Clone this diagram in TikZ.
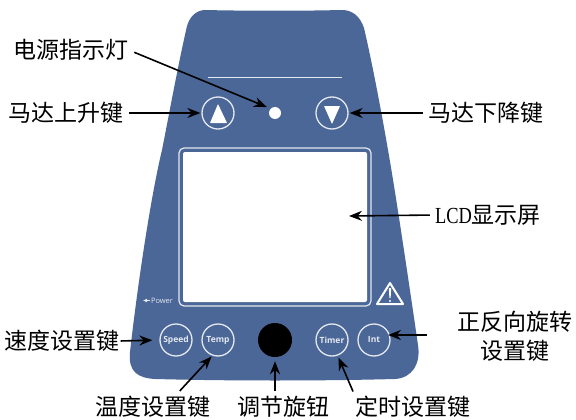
\documentclass[tikz,border=0pt]{standalone}
\usepackage{fontspec}
\setmainfont{Liberation Serif}
\newfontfamily\cjk{Noto Sans CJK SC}
\newfontfamily\narrowlatin[FakeStretch=0.8]{Liberation Serif}
\newfontfamily\keyfont{Open Sans}
\usetikzlibrary{arrows.meta}
\definecolor{PanelBlue}{HTML}{4A6797}
\definecolor{RingGray}{HTML}{E4E8F0}
\newcommand{\ringradius}{32pt}
\tikzset{
  panelkey/.style={circle,draw=RingGray,line width=1.3pt,minimum size=\ringradius,inner sep=0pt,
    text=RingGray,font=\keyfont\bfseries\fontsize{8.5}{9}\selectfont},
  callout/.style={font=\cjk\fontsize{23}{29}\selectfont,inner sep=0pt,align=center},
  pointer/.style={-{Stealth[length=13pt,width=10pt]},line width=1.6pt,black},
}
\begin{document}
\begin{tikzpicture}[x=1pt,y=-1pt]
  \useasboundingbox (0,0) rectangle (576,420);
  % panel body
  \fill[PanelBlue] (204,10) .. controls (250,11) and (300,11) .. (342,10)
    .. controls (352,10) and (360,16) .. (364,28)
    .. controls (372,62) and (382,115) .. (388,150)
    .. controls (396,195) and (410,290) .. (418,345)
    .. controls (421,364) and (412,378) .. (395,379)
    .. controls (320,381) and (230,381) .. (155,379)
    .. controls (138,378) and (128,372) .. (130,352)
    .. controls (137,290) and (150,200) .. (162,150)
    .. controls (168,120) and (178,65) .. (187,26)
    .. controls (190,16) and (196,11) .. (204,10) -- cycle;
  \draw[RingGray,line width=1pt] (208,78) -- (342,78);
  % lcd part
  \draw[RingGray,line width=1.2pt,rounded corners=5pt] (179,148) rectangle (371,306);
  \fill[white,rounded corners=2pt] (183,152) rectangle (367,302);
  \coordinate (lcdTarget) at (349,216);
  % top row
  \node[panelkey] (btnUp) at (218,113) {};
  \node[panelkey] (btnDown) at (332,113) {};
  \fill[white,rounded corners=0.5pt] (218,104) -- (227,123) -- (210,123) -- cycle;
  \fill[white,rounded corners=0.5pt] (332,124) -- (340,106) -- (324,106) -- cycle;
  \node[circle,fill=white,minimum size=12pt,inner sep=0pt] (led) at (275,113) {};
  % warning sign
  \draw[white,line width=2pt,line join=round] (390,283) -- (403,304) -- (377,304) -- cycle;
  \fill[white] (388.8,288) -- (391.2,288) -- (390.6,298) -- (389.4,298) -- cycle;
  \fill[white] (390,301) circle (1.2pt);
  \node[text=RingGray,font=\keyfont\fontsize{7.5}{8}\selectfont,inner sep=0pt] (power) at (162,301) {Power};
  \draw[-{Latex[length=4pt,width=4pt]},RingGray,line width=1pt] (150,300.5) -- (143,300.5);
  % bottom row
  \node[panelkey] (btnSpeed) at (176,340) {Speed};
  \node[panelkey] (btnTemp) at (218,340) {Temp};
  \node[circle,fill=black,minimum size=34pt,inner sep=0pt] (knob) at (275,340) {};
  \node[panelkey] (btnTimer) at (332,340) {Timer};
  \node[panelkey] (btnInt) at (374,340) {Int};
  % labels
  \node[callout] (lblLed) at (71,50) {电源指示灯};
  \node[callout] (lblUp) at (66,113) {马达上升键};
  \node[callout] (lblDown) at (486,113) {马达下降键};
  \node[callout] (lblLcd) at (488,215) {{\narrowlatin LCD}显示屏};
  \node[callout] (lblInt) at (515,336) {正反向旋转\\设置键};
  \node[callout] (lblSpeed) at (62,341) {速度设置键};
  \node[callout] (lblTemp) at (153,407) {温度设置键};
  \node[callout] (lblKnob) at (283,407) {调节旋钮};
  \node[callout] (lblTimer) at (413,407) {定时设置键};
  \coordinate (intTail) at (427,335);
  \coordinate (intTip) at (388,335);
  % pointers
  \draw[pointer,shorten <=6pt,shorten >=4pt] (lblLed.east) -- (led.north west);
  \draw[pointer,shorten <=5pt,shorten >=1pt] (lblUp.east) -- (btnUp.west);
  \draw[pointer,shorten <=5pt,shorten >=1pt] (lblDown.west) -- (btnDown.east);
  \draw[pointer,shorten <=5pt] (lblLcd.west) -- (lcdTarget);
  \draw[pointer,shorten <=1pt,shorten >=7pt] (lblSpeed.east) -- (btnSpeed.west);
  \draw[pointer,shorten <=7pt,shorten >=1pt] (lblTemp.north) ++(22,0) -- (btnTemp.250);
  \draw[pointer,shorten <=5pt,shorten >=4pt] (knob.south |- lblKnob.north) -- (knob.south);
  \draw[pointer,shorten <=5pt,shorten >=2pt] (lblTimer.north) ++(-58,0) -- (btnTimer.290);
  \draw[pointer] (intTail) -- (intTip);
\end{tikzpicture}
\end{document}
